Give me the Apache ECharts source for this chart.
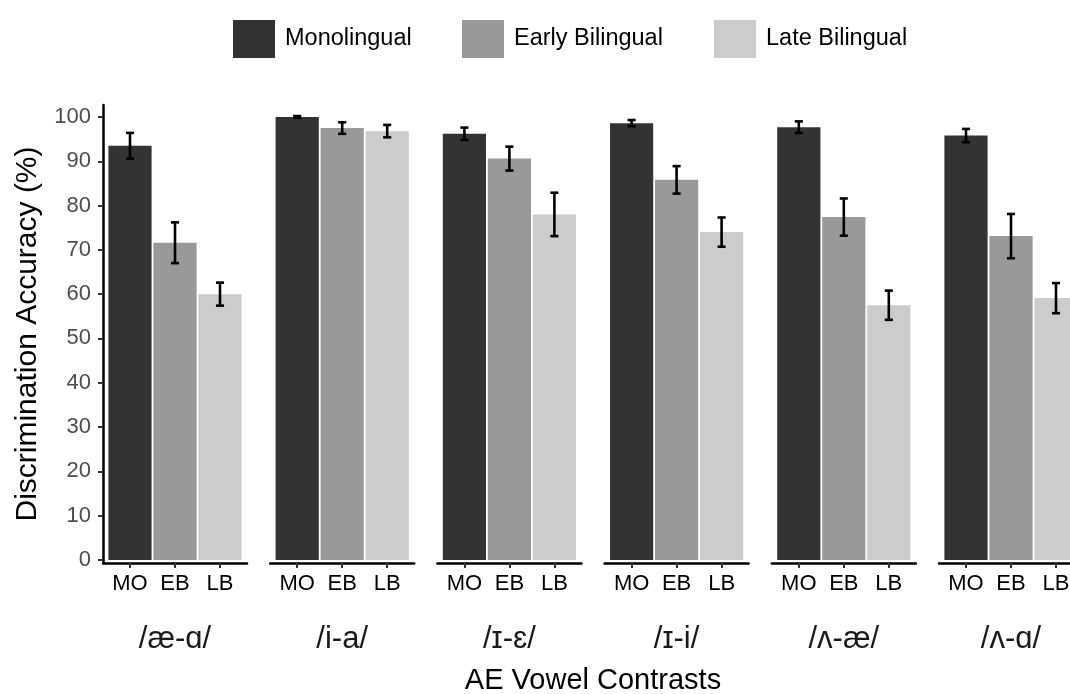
<!DOCTYPE html>
<html>
<head>
<meta charset="utf-8">
<script src="https://cdn.jsdelivr.net/npm/echarts@6/dist/echarts.min.js"></script>
<style>
html,body{margin:0;padding:0;background:#fff;}
#chart{width:1070px;height:694px;}
</style>
</head>
<body>
<div id="chart"></div>
<script>
// ---- data ----
const contrasts = ['/æ-ɑ/', '/i-a/', '/ɪ-ɛ/', '/ɪ-i/', '/ʌ-æ/', '/ʌ-ɑ/'];
const groups = ['Monolingual', 'Early Bilingual', 'Late Bilingual'];
const groupShort = ['MO', 'EB', 'LB'];
const monoMean = [93.5, 100.0, 96.2, 98.6, 97.7, 95.8];
const earlyMean = [71.6, 97.5, 90.6, 85.8, 77.4, 73.1];
const lateMean = [60.0, 96.8, 78.0, 74.0, 57.5, 59.1];
const monoSE = [2.9, 0.2, 1.4, 0.7, 1.3, 1.5];
const earlySE = [4.6, 1.3, 2.7, 3.1, 4.2, 5.0];
const lateSE = [2.6, 1.4, 4.9, 3.3, 3.3, 3.4];
const yTicks = [0, 10, 20, 30, 40, 50, 60, 70, 80, 90, 100];
const xTitle = 'AE Vowel Contrasts';
const yTitle = 'Discrimination Accuracy (%)';

// ---- styling / layout ----
const colors = ['#333333', '#999999', '#cccccc'];
const means = [monoMean, earlyMean, lateMean];
const ses = [monoSE, earlySE, lateSE];
const FONT = 'Liberation Sans, Arial, Helvetica, sans-serif';
const panelLeft0 = 103, panelStep = 167.2, panelWidth = 144;
const gridTop = 105, gridHeight = 458;

const grids = [], xAxes = [], yAxes = [], series = [];
contrasts.forEach((c, p) => {
  grids.push({left: panelLeft0 + p * panelStep, top: gridTop, width: panelWidth, height: gridHeight,
              containLabel: false, outerBoundsMode: 'none'});
  xAxes.push({
    type: 'value', gridIndex: p, min: 0.4, max: 3.6,
    splitLine: {show: false},
    axisLine: {show: true, onZero: false, lineStyle: {color: '#000', width: 2.5}},
    axisTick: {show: true, length: 5, lineStyle: {color: '#333', width: 2}, customValues: [1, 2, 3]},
    axisLabel: {
      show: true, customValues: [1, 2, 3], margin: 10,
      formatter: v => groupShort[Math.round(v) - 1] || '',
      color: '#000', fontSize: 22, fontFamily: FONT
    },
    name: c, nameLocation: 'middle', nameGap: 61,
    nameTextStyle: {color: '#1a1a1a', fontSize: 31, fontFamily: FONT}
  });
  yAxes.push({
    type: 'value', gridIndex: p, min: -0.7, max: 102.7,
    show: p === 0,
    splitLine: {show: false},
    axisLine: {show: true, lineStyle: {color: '#000', width: 2.5}},
    axisTick: {show: true, length: 5, lineStyle: {color: '#333', width: 2}, customValues: yTicks},
    axisLabel: {customValues: yTicks, margin: 12, color: '#4d4d4d', fontSize: 22, fontFamily: FONT},
    name: p === 0 ? yTitle : '', nameLocation: 'middle', nameGap: 60,
    nameTextStyle: {color: '#000', fontSize: 30, fontFamily: FONT}
  });
  groups.forEach((g, gi) => {
    series.push({
      type: 'custom', name: g, xAxisIndex: p, yAxisIndex: p,
      itemStyle: {color: colors[gi]},
      clip: false,
      data: [[gi + 1, means[gi][p], means[gi][p] - ses[gi][p], means[gi][p] + ses[gi][p]]],
      renderItem: function (params, api) {
        const x = api.value(0), v = api.value(1), lo = api.value(2), hi = api.value(3);
        const a = api.coord([x - 0.48, v]);
        const b = api.coord([x + 0.48, 0]);
        const top = api.coord([x, hi]);
        const bot = api.coord([x, lo]);
        const half = api.size([0.09, 0])[0];
        const es = {stroke: '#000', lineWidth: 2.6};
        return {
          type: 'group',
          children: [
            {type: 'rect', shape: {x: a[0], y: a[1], width: b[0] - a[0], height: b[1] - a[1]},
             style: {fill: colors[gi]}},
            {type: 'line', shape: {x1: top[0], y1: top[1], x2: bot[0], y2: bot[1]}, style: es},
            {type: 'line', shape: {x1: top[0] - half, y1: top[1], x2: top[0] + half, y2: top[1]}, style: es},
            {type: 'line', shape: {x1: bot[0] - half, y1: bot[1], x2: bot[0] + half, y2: bot[1]}, style: es}
          ]
        };
      }
    });
  });
});

const legendLefts = [228, 457, 709];
const legends = groups.map((g, gi) => ({
  data: [{name: g, icon: 'rect'}],
  left: legendLefts[gi], top: 15,
  itemWidth: 42, itemHeight: 38,
  selectedMode: false,
  textStyle: {color: '#000', fontSize: 23.5, fontFamily: FONT, padding: [0, 0, 0, 5]}
}));

const chart = echarts.init(document.getElementById('chart'), null, {renderer: 'canvas'});
chart.setOption({
  animation: false,
  backgroundColor: '#fff',
  legend: legends,
  grid: grids,
  xAxis: xAxes,
  yAxis: yAxes,
  series: series,
  graphic: [{
    type: 'text', x: 593, y: 681,
    style: {text: xTitle, fill: '#000', fontSize: 29, fontFamily: FONT, align: 'center', verticalAlign: 'middle'}
  }]
});
</script>
</body>
</html>
